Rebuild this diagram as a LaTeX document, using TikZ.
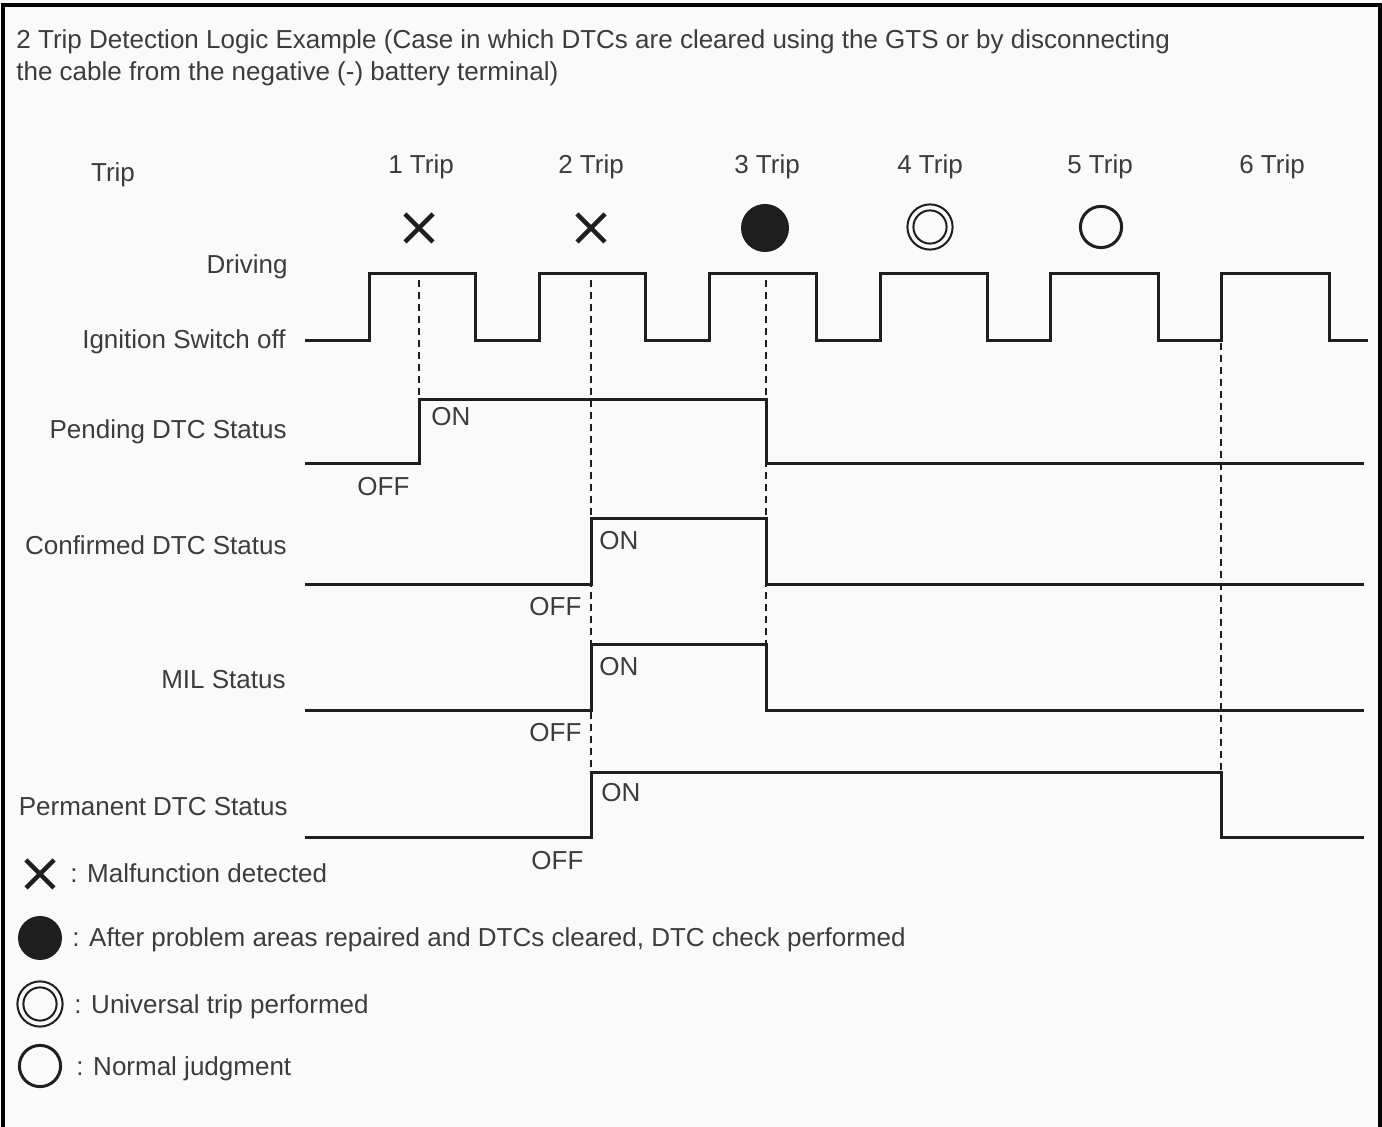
\documentclass[tikz,border=0pt]{standalone}
\usepackage{fontspec}
\setmainfont{Liberation Sans}
\usetikzlibrary{positioning}
\definecolor{ink}{HTML}{1E1E1E}
\definecolor{textc}{HTML}{3C3C3C}
\definecolor{paper}{HTML}{FAFAFA}
\tikzset{
  wave/.style={line width=1.5pt,draw=ink,line join=miter},
  guide/.style={line width=1pt,draw=ink,dash pattern=on 3.5pt off 2.5pt},
  lbl/.style={font=\fontsize{13}{15}\selectfont,text=textc,inner sep=0pt},
  sym/.style={line width=1pt,draw=ink},
  frame/.style={line width=2pt,draw=black}
}
% cross mark: x, y, half size
\newcommand{\xmark}[3]{%
  \draw[line width=2.2pt,ink] (#1-#3,#2-#3)--(#1+#3,#2+#3) (#1-#3,#2+#3)--(#1+#3,#2-#3);}
% filled dot, double ring, single ring
\newcommand{\fdot}[3]{\fill[ink] (#1,#2) circle (#3);}
\newcommand{\dring}[2]{\draw[sym] (#1,#2) circle (11.3pt); \draw[sym] (#1,#2) circle (8.3pt);}
\newcommand{\oring}[2]{\draw[line width=1.5pt,ink] (#1,#2) circle (10.3pt);}
% one status line: low y, high y, rise x, fall x
\newcommand{\stat}[4]{\draw[wave] (305,#1) -- (#3,#1) -- (#3,#2) -- (#4,#2) -- (#4,#1) -- (1364,#1);}

\begin{document}
\begin{tikzpicture}[x=0.5pt,y=-0.5pt]
\useasboundingbox (0,0) rectangle (1382,1127);
\fill[paper] (0,0) rectangle (1382,1127);
\draw[frame] (3,1127) -- (3,5) -- (1380,5) -- (1380,1127);

% title
\node[lbl,anchor=base west] (title1) at (16,49) {2 Trip Detection Logic Example (Case in which DTCs are cleared using the GTS or by disconnecting};
\node[lbl,anchor=base west] (title2) at (16,81) {the cable from the negative (-) battery terminal)};

% row labels
\node[lbl,anchor=base] (trip) at (113,182) {Trip};
\node[lbl,anchor=base east] (drv) at (288,274) {Driving};
\node[lbl,anchor=base east] (ign) at (286,349) {Ignition Switch off};
\node[lbl,anchor=base east] (pend) at (287,439) {Pending DTC Status};
\node[lbl,anchor=base east] (conf) at (287,555) {Confirmed DTC Status};
\node[lbl,anchor=base east] (mil) at (286,689) {MIL Status};
\node[lbl,anchor=base east] (perm) at (288,816) {Permanent DTC Status};

% trip numbers
\foreach \k/\cx in {1/421,2/591,3/767,4/930,5/1100,6/1272}
  \node[lbl,anchor=base] (t\k) at (\cx,174) {\k\ Trip};

% trip marks
\xmark{419}{228}{14}
\xmark{591}{228}{14}
\fdot{765}{228}{12pt}
\dring{930}{227}
\oring{1101}{227}

% guide lines
\draw[guide] (419,280) -- (419,400);
\draw[guide] (591,280) -- (591,773);
\draw[guide] (766,280) -- (766,645);
\draw[guide] (1221,343) -- (1221,773);

% driving / ignition off
\draw[wave] (305,341) \foreach \k in {0,...,5}{
  -- ({369+170.4*\k},341) -- ({369+170.4*\k},274) -- ({475+170.8*\k},274) -- ({475+170.8*\k},341)} -- (1368,341);

% status lines
\stat{464}{400}{419}{766}
\stat{585}{519}{591}{766}
\stat{711}{645}{591}{766}
\stat{838}{773}{591}{1221}

% ON / OFF
\node[lbl,anchor=base west] (pon) at (431,426) {ON};
\node[lbl,anchor=base west] (poff) at (357,496) {OFF};
\node[lbl,anchor=base west] (con) at (599,550) {ON};
\node[lbl,anchor=base west] (coff) at (529,616) {OFF};
\node[lbl,anchor=base west] (mon) at (599,676) {ON};
\node[lbl,anchor=base west] (moff) at (529,742) {OFF};
\node[lbl,anchor=base west] (ron) at (601,802) {ON};
\node[lbl,anchor=base west] (roff) at (531,870) {OFF};

% legend
\xmark{40}{874}{14}
\node[lbl,anchor=base west] (lg1) at (70,883) {: Malfunction detected};
\fdot{40}{938}{11pt}
\node[lbl,anchor=base west] (lg2) at (72,947) {: After problem areas repaired and DTCs cleared, DTC check performed};
\dring{40}{1004}
\node[lbl,anchor=base west] (lg3) at (74,1013) {: Universal trip performed};
\oring{40}{1066}
\node[lbl,anchor=base west] (lg4) at (76,1075) {: Normal judgment};
\end{tikzpicture}
\end{document}
